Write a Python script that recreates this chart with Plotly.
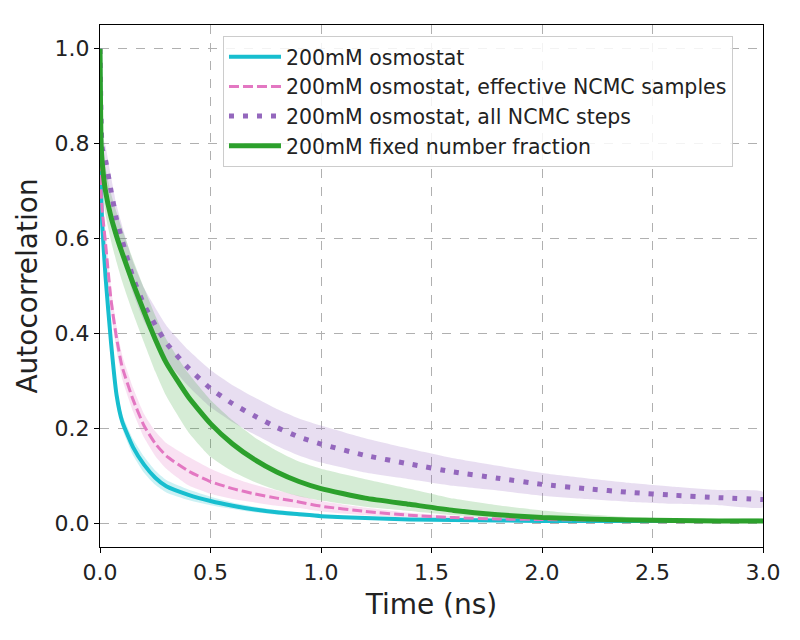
import plotly.graph_objects as go

# ---- data ----
time_ns = [0.0, 0.005, 0.01, 0.025, 0.05, 0.075, 0.1, 0.15, 0.2, 0.25, 0.3, 0.4, 0.5,
           0.6, 0.7, 0.8, 0.9, 1.0, 1.2, 1.4, 1.6, 1.8, 2.0, 2.2, 2.4, 2.6, 2.8, 3.0]

osmo_mean = [1.0, 0.70, 0.63, 0.52, 0.38, 0.27, 0.215, 0.16, 0.123, 0.096, 0.078, 0.06, 0.047,
             0.037, 0.029, 0.023, 0.019, 0.015, 0.011, 0.008, 0.007, 0.006, 0.005, 0.005, 0.005, 0.005, 0.005, 0.005]
osmo_lo = [1.0, 0.68, 0.61, 0.50, 0.36, 0.255, 0.20, 0.143, 0.106, 0.081, 0.065, 0.049, 0.038,
           0.030, 0.023, 0.018, 0.015, 0.012, 0.009, 0.006, 0.005, 0.004, 0.004, 0.004, 0.004, 0.004, 0.004, 0.004]
osmo_hi = [1.0, 0.72, 0.65, 0.54, 0.40, 0.285, 0.23, 0.177, 0.140, 0.111, 0.091, 0.071, 0.056,
           0.044, 0.035, 0.028, 0.023, 0.018, 0.013, 0.010, 0.009, 0.008, 0.006, 0.006, 0.006, 0.006, 0.006, 0.006]

eff_mean = [1.0, 0.70, 0.66, 0.59, 0.47, 0.39, 0.33, 0.26, 0.205, 0.168, 0.142, 0.11, 0.088,
            0.073, 0.062, 0.053, 0.045, 0.036, 0.025, 0.017, 0.012, 0.009, 0.008, 0.007, 0.006, 0.005, 0.005, 0.004]
eff_lo = [1.0, 0.68, 0.64, 0.565, 0.445, 0.365, 0.305, 0.235, 0.18, 0.142, 0.115, 0.08, 0.062,
          0.051, 0.044, 0.037, 0.032, 0.025, 0.017, 0.012, 0.009, 0.007, 0.006, 0.005, 0.004, 0.004, 0.004, 0.003]
eff_hi = [1.0, 0.72, 0.68, 0.615, 0.495, 0.415, 0.355, 0.285, 0.23, 0.194, 0.169, 0.14, 0.115,
          0.096, 0.081, 0.069, 0.058, 0.047, 0.033, 0.022, 0.015, 0.011, 0.01, 0.009, 0.008, 0.006, 0.006, 0.005]

all_mean = [1.0, 0.85, 0.79, 0.765, 0.70, 0.64, 0.597, 0.517, 0.46, 0.418, 0.38, 0.327, 0.284,
            0.252, 0.226, 0.202, 0.182, 0.167, 0.143, 0.125, 0.108, 0.095, 0.082, 0.073, 0.065, 0.059, 0.054, 0.05]
all_lo = [1.0, 0.82, 0.76, 0.735, 0.67, 0.61, 0.567, 0.484, 0.425, 0.382, 0.343, 0.289, 0.245,
          0.213, 0.187, 0.163, 0.143, 0.128, 0.107, 0.093, 0.079, 0.069, 0.058, 0.051, 0.045, 0.041, 0.038, 0.034]
all_hi = [1.0, 0.88, 0.82, 0.795, 0.73, 0.67, 0.627, 0.55, 0.495, 0.454, 0.417, 0.365, 0.323,
          0.291, 0.265, 0.241, 0.221, 0.206, 0.179, 0.157, 0.137, 0.121, 0.106, 0.095, 0.085, 0.077, 0.07, 0.066]

fix_mean = [1.0, 0.80, 0.76, 0.70, 0.645, 0.605, 0.57, 0.505, 0.445, 0.388, 0.338, 0.266, 0.21,
            0.167, 0.134, 0.108, 0.088, 0.073, 0.053, 0.04, 0.027, 0.018, 0.012, 0.009, 0.007, 0.006, 0.005, 0.005]
fix_lo = [1.0, 0.75, 0.71, 0.65, 0.595, 0.55, 0.51, 0.442, 0.38, 0.32, 0.268, 0.192, 0.14,
          0.109, 0.087, 0.070, 0.057, 0.048, 0.035, 0.026, 0.017, 0.011, 0.007, 0.005, 0.004, 0.004, 0.003, 0.003]
fix_hi = [1.0, 0.85, 0.81, 0.75, 0.695, 0.655, 0.62, 0.555, 0.495, 0.438, 0.388, 0.316, 0.26,
          0.217, 0.181, 0.153, 0.130, 0.115, 0.093, 0.073, 0.052, 0.038, 0.027, 0.019, 0.013, 0.010, 0.009, 0.009]

series_names = ["200mM osmostat",
                "200mM osmostat, effective NCMC samples",
                "200mM osmostat, all NCMC steps",
                "200mM fixed number fraction"]
x_ticks = [0.0, 0.5, 1.0, 1.5, 2.0, 2.5, 3.0]
y_ticks = [0.0, 0.2, 0.4, 0.6, 0.8, 1.0]

# ---- styles ----
colors = ["#17becf", "#e377c2", "#9467bd", "#2ca02c"]
fills = ["rgba(23,190,207,0.22)", "rgba(227,119,194,0.22)",
         "rgba(148,103,189,0.22)", "rgba(44,160,44,0.2)"]
widths = [4, 3, 5, 5]
dashes = ["solid", "10px,4px", "5px,9px", "solid"]

means = [osmo_mean, eff_mean, all_mean, fix_mean]
los = [osmo_lo, eff_lo, all_lo, fix_lo]
his = [osmo_hi, eff_hi, all_hi, fix_hi]

fig = go.Figure()

for i in range(4):
    fig.add_trace(go.Scatter(
        x=time_ns + time_ns[::-1], y=his[i] + los[i][::-1],
        fill="toself", fillcolor=fills[i], line=dict(width=0, shape="spline", smoothing=0.5),
        mode="lines", showlegend=False, hoverinfo="skip"))

for i in range(4):
    fig.add_trace(go.Scatter(
        x=time_ns, y=means[i], mode="lines", name=series_names[i],
        legendgroup=f"g{i}",
        line=dict(color=colors[i], width=widths[i], dash=dashes[i],
                  shape="spline", smoothing=0.5)))

axis_common = dict(
    showline=True, linecolor="black", linewidth=1.3, mirror=True,
    ticks="outside", ticklen=5, tickwidth=1.3, tickcolor="black",
    showgrid=True, gridcolor="#b0b0b0", griddash="dash", gridwidth=1,
    zeroline=False, automargin=False, tickfont=dict(size=22, color="#222"))

# page body has an 8px margin, so the figure is 792x632 placed at (8, 8)
fig.update_layout(
    width=792, height=632,
    margin=dict(l=92, r=37, t=17, b=93),
    paper_bgcolor="white", plot_bgcolor="white",
    font=dict(family="DejaVu Sans", color="#222"),
    xaxis=dict(range=[0, 3], tickvals=x_ticks, tickformat=".1f",
               title=dict(text="Time (ns)", font=dict(size=28), standoff=10),
               **axis_common),
    yaxis=dict(range=[-0.05, 1.05], tickvals=y_ticks, tickformat=".1f",
               title=dict(text="Autocorrelation", font=dict(size=28), standoff=8),
               **axis_common),
    legend=dict(x=0.1855, y=0.979, xanchor="left", yanchor="top",
                bgcolor="rgba(255,255,255,0.85)", bordercolor="#cccccc", borderwidth=1,
                font=dict(size=20.5), tracegroupgap=6, traceorder="normal",
                itemwidth=52),
    showlegend=True,
)

fig.write_html("out.html")
